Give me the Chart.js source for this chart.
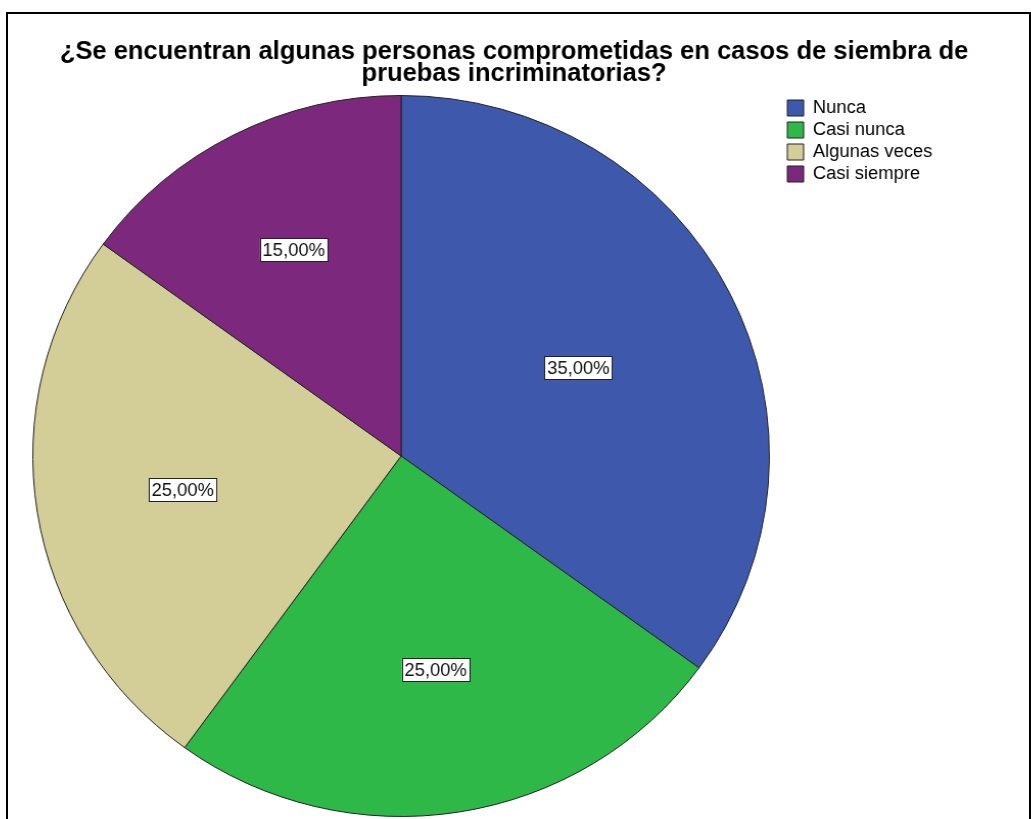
<!DOCTYPE html>
<html>
<head>
<meta charset="utf-8">
<script src="https://cdn.jsdelivr.net/npm/chart.js"></script>
<style>
    body { margin: 0; background: #fff; width: 1031px; height: 819px; overflow: hidden; position: relative; }
    #frame { position: absolute; left: 6px; top: 12px; right: 0; height: 900px; border: 2px solid #000; box-sizing: border-box; }
    /* the reference is a touch wider than tall, so the chart is stretched a little */
    #holder { position: absolute; left: 19px; top: 0; width: 969px; height: 819px; transform: scaleX(1.02167); transform-origin: 0 0; }
</style>
</head>
<body>
<div id="frame"></div>
<div id="holder"><canvas id="pieChart" width="969" height="819"></canvas></div>
<script>
const chart1 = document.getElementById("pieChart");   //canvas for the pie

//data
var titleLines = ["¿Se encuentran algunas personas comprometidas en casos de siembra de", "pruebas incriminatorias?"];
var categories = ["Nunca", "Casi nunca", "Algunas veces", "Casi siempre"];
var percentages = [35, 25, 25, 15];
var sliceColors = ["#3e58ac", "#2eb848", "#d3ce97", "#7c287d"];

//keep the legend a fixed width so the pie sits where it should
const legendWidth = {
    id: 'legendWidth',
    beforeInit(chart) {
        const fit = chart.legend.fit;
        chart.legend.fit = function () {
            fit.bind(chart.legend)();
            this.width = 221;
        };
    }
};

//percentage labels in white boxes, put at the centroid of every slice
const sliceLabels = {
    id: 'sliceLabels',
    afterDatasetsDraw(chart) {
        const ctx = chart.ctx;
        const meta = chart.getDatasetMeta(0);
        const data = chart.data.datasets[0].data;
        const total = data.reduce((a, b) => a + b, 0);
        ctx.save();
        ctx.font = "18px 'Liberation Sans', Arial, sans-serif";
        ctx.textAlign = 'center';
        ctx.textBaseline = 'middle';
        meta.data.forEach((arc, i) => {
            const p = arc.getProps(['x', 'y', 'startAngle', 'endAngle', 'outerRadius'], true);
            const half = (p.endAngle - p.startAngle) / 2;
            const mid = p.startAngle + half;
            const d = 2 * p.outerRadius * Math.sin(half) / (3 * half);
            const x = p.x + Math.cos(mid) * d;
            const y = p.y + Math.sin(mid) * d;
            const txt = (data[i] / total * 100).toFixed(2).replace('.', ',') + '%';
            const w = ctx.measureText(txt).width + 5;
            const h = 23;
            ctx.fillStyle = '#fff';
            ctx.fillRect(x - w / 2, y - h / 2, w, h);
            ctx.strokeStyle = '#222';
            ctx.lineWidth = 1;
            ctx.strokeRect(Math.round(x - w / 2) + 0.5, Math.round(y - h / 2) + 0.5, Math.round(w), h);
            ctx.fillStyle = '#111';
            ctx.fillText(txt, x, y + 1);
        });
        ctx.restore();
    }
};

var pieGraph = new Chart(chart1, {
    type: 'pie',
    data: {
        labels: categories,
        datasets: [{
            data: percentages,
            backgroundColor: sliceColors,
            borderColor: '#222',
            borderWidth: 1,
            hoverOffset: 0
        }]
    },
    options: {
        responsive: false,
        animation: false,
        events: [],
        layout: { padding: { left: 0, right: 0, top: 0, bottom: 2 } },
        plugins: {
            title: {
                display: true,
                text: titleLines,
                color: '#000',
                font: { family: "'Liberation Sans', Arial, sans-serif", size: 25, weight: 'bold', lineHeight: 0.88 },
                padding: { top: 41, bottom: 10 }
            },
            legend: {
                position: 'right',
                align: 'start',
                fullSize: false,
                labels: {
                    color: '#000',
                    boxWidth: 16,
                    boxHeight: 16,
                    padding: 4,
                    font: { family: "'Liberation Sans', Arial, sans-serif", size: 18 }
                }
            },
            tooltip: { enabled: false }
        }
    },
    plugins: [legendWidth, sliceLabels]
});
</script>
</body>
</html>
